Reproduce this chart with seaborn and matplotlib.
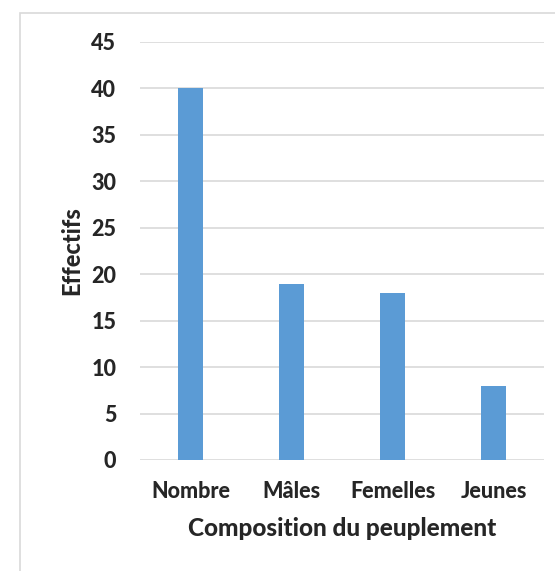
import matplotlib
matplotlib.use("Agg")
import matplotlib.pyplot as plt
import matplotlib.patches as patches
import pandas as pd
import seaborn as sns

# Data
categories = ["Nombre", "Mâles", "Femelles", "Jeunes"]
effectifs = [40, 19, 18, 8]
yticks = [0, 5, 10, 15, 20, 25, 30, 35, 40, 45]

data = pd.DataFrame({"categorie": categories, "effectif": effectifs})

sns.set_style("white")
plt.rcParams['font.family'] = ['Lato', 'DejaVu Sans']

W, H = 555, 571
fig = plt.figure(figsize=(W / 100, H / 100), dpi=100)
ax = fig.add_axes([140 / W, 1 - 460 / H, 404 / W, (460 - 42) / H])

sns.barplot(x="categorie", y="effectif", data=data, color="#5B9BD5",
            width=0.25, saturation=1, linewidth=0, ax=ax, zorder=3)

ax.set_ylim(0, 45)
ax.set_xlim(-0.5, 3.5)
ax.set_yticks(yticks)
ax.yaxis.grid(True, color="#D9D9D9", linewidth=1.2, zorder=0)
ax.set_axisbelow(True)
for s in ax.spines.values():
    s.set_visible(False)
ax.tick_params(axis="both", length=0, labelsize=15.5)
ax.tick_params(axis="y", pad=17)
ax.tick_params(axis="x", pad=15)
for lbl in ax.get_xticklabels() + ax.get_yticklabels():
    lbl.set_fontweight("black")

ax.set_xlabel("Composition du peuplement", fontsize=17.5, fontweight="black", labelpad=11)
ax.set_ylabel("Effectifs", fontsize=17, fontweight="black", labelpad=6)

# light frame around the chart area
fig.add_artist(patches.Rectangle((20 / W, -0.1), 2, 1 - 13 / H + 0.1,
                                 transform=fig.transFigure, fill=False,
                                 edgecolor="#D9D9D9", linewidth=1.2))

fig.savefig("out.png", dpi=100, facecolor="white")
